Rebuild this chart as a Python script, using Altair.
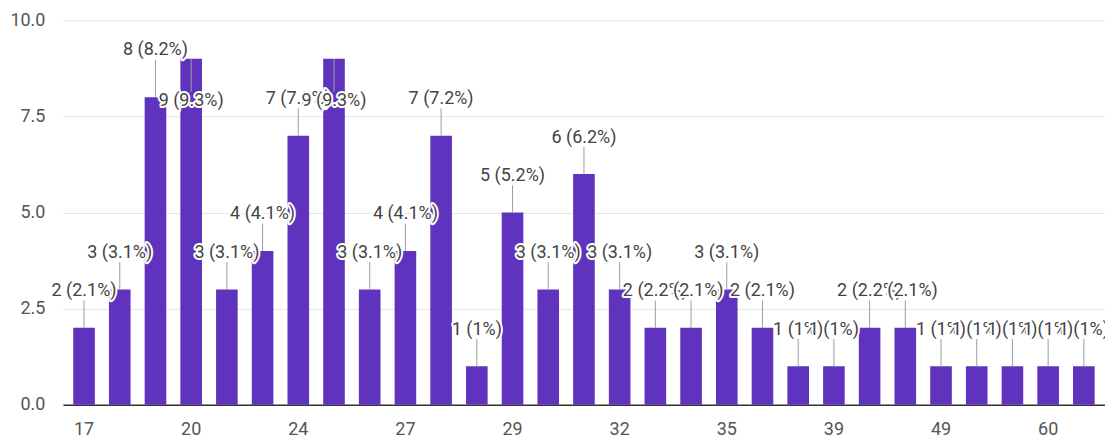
import altair as alt
import pandas as pd

# Categories (ages) in display order; only every third one is labelled on the axis
ages = ["17", "18", "19", "20", "21", "22", "24", "25", "26", "27",
        "28", "28.5", "29", "30", "31", "32", "33", "34", "35", "36",
        "37", "39", "40", "45", "49", "50", "55", "60", "65"]
counts = [2, 3, 8, 9, 3, 4, 7, 9, 3, 4,
          7, 1, 5, 3, 6, 3, 2, 2, 3, 2,
          1, 1, 2, 2, 1, 1, 1, 1, 1]
shown_ticks = ["17", "20", "24", "27", "29", "32", "35", "39", "49", "60"]
# annotation placement tweaks (collision avoidance, in axis units)
label_shift = [0, 0, 0.27, -2.05, 0, 0, 0, -2.05, 0, 0,
               0, 0, 0, 0, 0, 0, 0, 0, 0, 0,
               0, 0, 0, 0, 0, 0, 0, 0, 0]

total = sum(counts)
df = pd.DataFrame({"age": ages, "count": counts, "shift": label_shift})
df["idx"] = range(len(df))
df["pct"] = df["count"] / total * 100
df["label"] = [f"{c} ({p:.1f}%)".replace(".0%", "%") for c, p in zip(df["count"], df["pct"])]
df["label_y"] = df["count"] + 0.95 + df["shift"]
df["stem_end"] = [ly - 0.24 if ly > c else ly + 0.24 for ly, c in zip(df["label_y"], df["count"])]

FONT = "Roboto"
BAR = "#5f33bd"

x_enc = alt.X("age:N", sort=None,
              scale=alt.Scale(paddingInner=0.395, paddingOuter=0.29),
              axis=alt.Axis(values=shown_ticks, labelAngle=0, ticks=False, grid=False,
                            domain=True, domainColor="#333333", domainWidth=1.5,
                            labelFont=FONT, labelFontSize=18, labelColor="#555555",
                            labelPadding=16, title=None))
x_plain = alt.X("age:N", sort=None, title=None)
y_scale = alt.Scale(domain=[0, 10], nice=False)

base = alt.Chart(df)

bars = base.mark_bar(color=BAR).encode(
    x=x_enc,
    y=alt.Y("count:Q", scale=y_scale,
            axis=alt.Axis(values=[0, 2.5, 5, 7.5, 10], format=".1f", domain=False,
                          ticks=False, gridColor="#e6e6e6", gridWidth=1,
                          labelFont=FONT, labelFontSize=18, labelColor="#555555",
                          labelPadding=18, title=None)),
)

stems = base.mark_rule(color="#9e9e9e", strokeWidth=1).encode(
    x=x_plain,
    y=alt.Y("count:Q", scale=y_scale, title=None),
    y2="stem_end:Q",
)

layers = [bars, stems]
# each annotation drawn in turn (halo then text), so later labels sit on top
for i in range(len(df)):
    sub = base.transform_filter(alt.datum.idx == i)
    layers.append(sub.mark_text(font=FONT, fontSize=18, baseline="middle", align="center",
                                color="white", stroke="white", strokeWidth=4,
                                strokeJoin="round").encode(
        x=x_plain, y=alt.Y("label_y:Q", scale=y_scale, title=None), text="label:N"))
    layers.append(sub.mark_text(font=FONT, fontSize=18, baseline="middle", align="center",
                                color="#444444").encode(
        x=x_plain, y=alt.Y("label_y:Q", scale=y_scale, title=None), text="label:N"))

chart = alt.layer(*layers).properties(
    width=1044, height=385,
    autosize=alt.AutoSizeParams(type="none"),
    padding={"left": 55, "top": 12, "right": 0, "bottom": 36},
).configure(background="white").configure_view(stroke=None)

chart.save("out.html", embed_options={"renderer": "svg", "actions": False})
